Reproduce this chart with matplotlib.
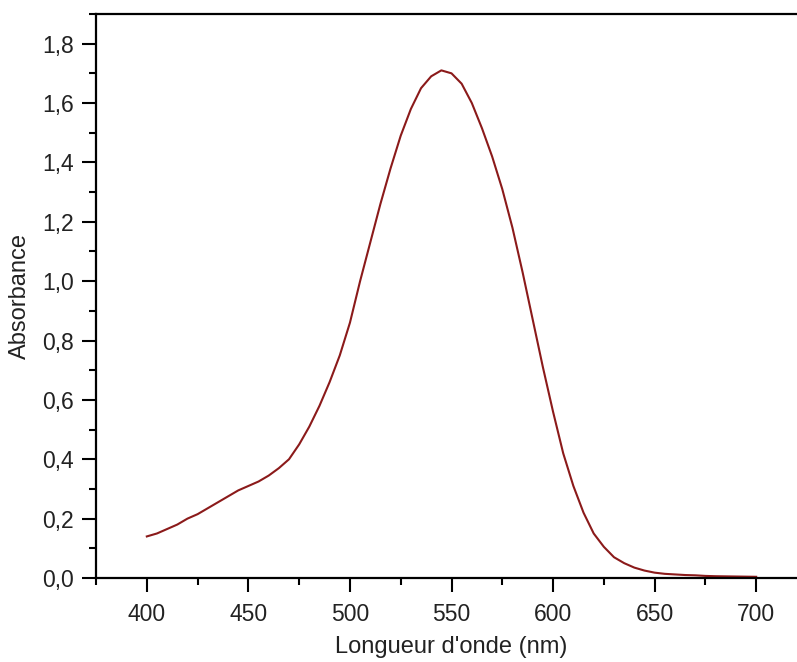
import matplotlib.pyplot as plt
from matplotlib.ticker import MultipleLocator, FuncFormatter

plt.rcParams['font.family'] = ['Liberation Sans', 'DejaVu Sans']

# spectre d'absorption
wavelength = [400, 405, 410, 415, 420, 425, 430, 435, 440, 445, 450, 455, 460, 465,
              470, 475, 480, 485, 490, 495, 500, 505, 510, 515, 520, 525, 530, 535,
              540, 545, 550, 555, 560, 565, 570, 575, 580, 585, 590, 595, 600, 605,
              610, 615, 620, 625, 630, 635, 640, 645, 650, 655, 660, 665, 670, 675,
              680, 690, 700]
absorbance = [0.14, 0.15, 0.165, 0.18, 0.20, 0.215, 0.235, 0.255, 0.275, 0.295, 0.31,
              0.325, 0.345, 0.37, 0.40, 0.45, 0.51, 0.58, 0.66, 0.75, 0.86, 1.00, 1.13,
              1.26, 1.38, 1.49, 1.58, 1.65, 1.69, 1.71, 1.70, 1.665, 1.60, 1.515, 1.42,
              1.31, 1.18, 1.03, 0.87, 0.71, 0.56, 0.42, 0.31, 0.22, 0.15, 0.105, 0.07,
              0.05, 0.035, 0.025, 0.018, 0.014, 0.012, 0.010, 0.009, 0.007, 0.006,
              0.005, 0.004]

fig = plt.figure(figsize=(7.97, 6.62), dpi=100)
ax = fig.add_axes([0.1205, 0.1269, 0.892, 0.852])
ax.plot(wavelength, absorbance, color='#8b1a1a', linewidth=1.5)

ax.set_xlim(375, 725)
ax.set_ylim(0, 1.9)
ax.xaxis.set_major_locator(MultipleLocator(50))
ax.xaxis.set_minor_locator(MultipleLocator(25))
ax.yaxis.set_major_locator(MultipleLocator(0.2))
ax.yaxis.set_minor_locator(MultipleLocator(0.1))
ax.yaxis.set_major_formatter(FuncFormatter(lambda v, p: f"{v:.1f}".replace('.', ',')))

ax.tick_params(which='major', direction='out', length=10, width=1.5,
               labelsize=16.5, labelcolor='#222222')
ax.tick_params(which='minor', direction='out', length=5, width=1.5)
ax.tick_params(axis='x', pad=8)
ax.tick_params(axis='y', pad=6)
for s in ax.spines.values():
    s.set_linewidth(1.6)

ax.set_xlabel("Longueur d'onde (nm)", fontsize=17, labelpad=7, color='#222222')
ax.set_ylabel("Absorbance", fontsize=17, labelpad=8, color='#222222')

fig.savefig("out.png", dpi=100)
